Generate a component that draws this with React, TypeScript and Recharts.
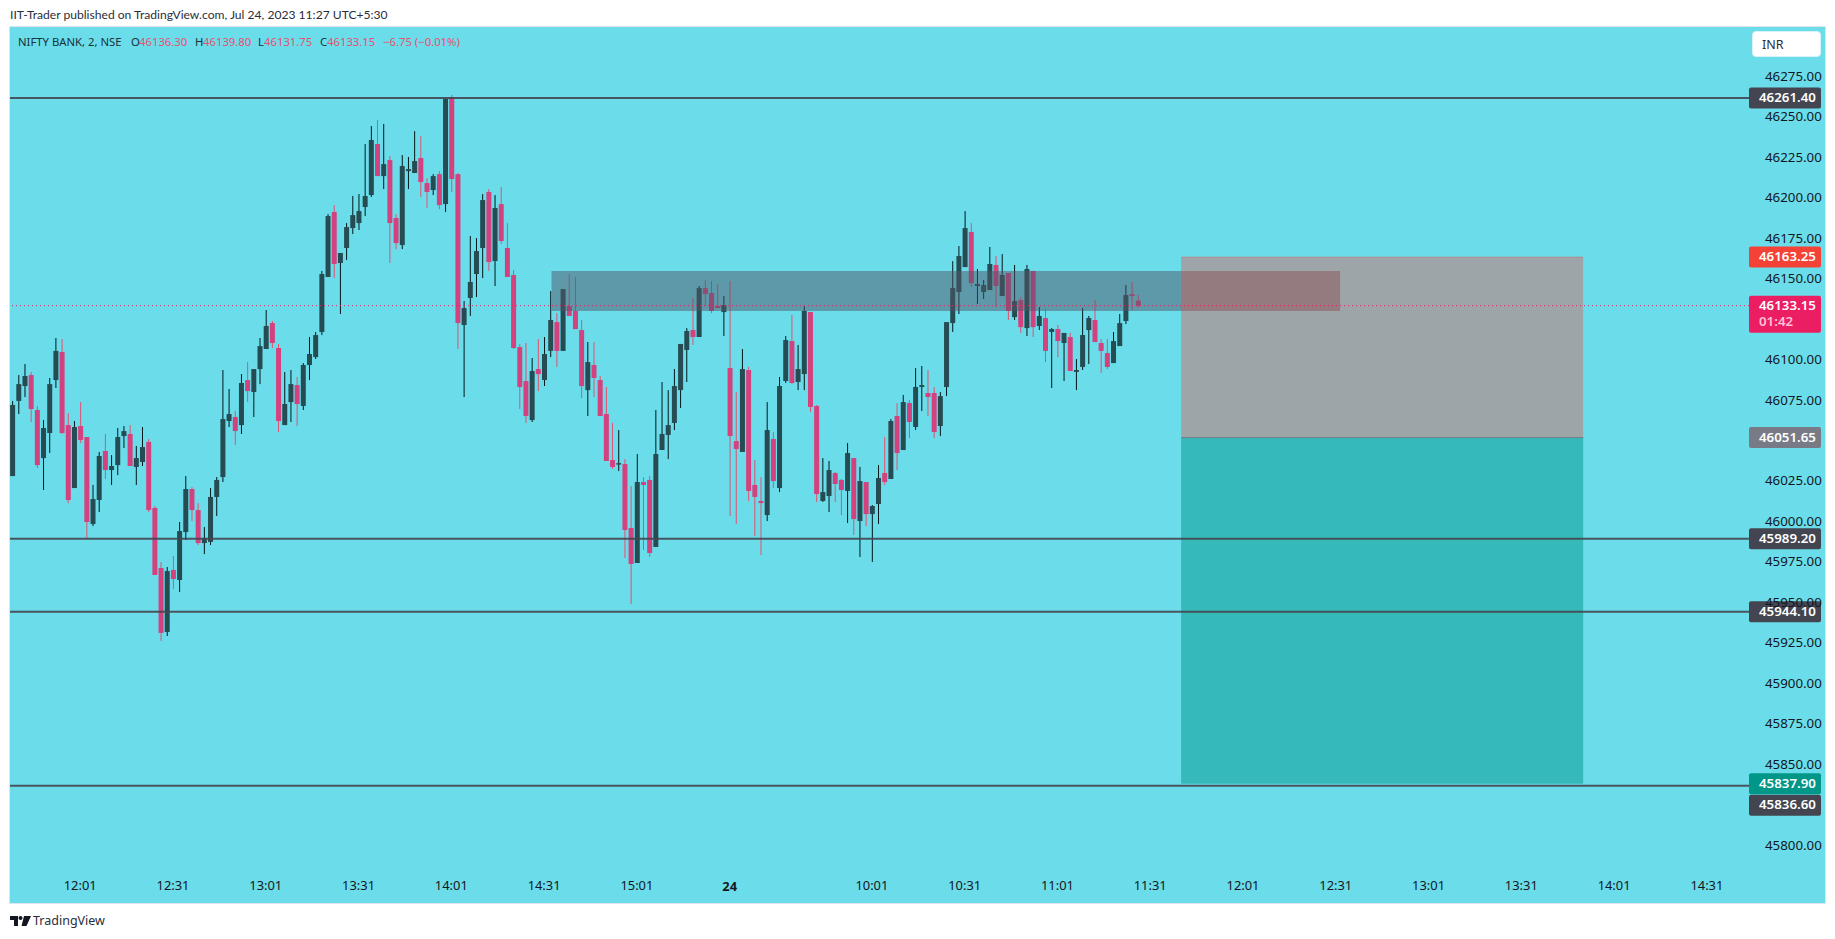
import {
  Bar,
  ComposedChart,
  ReferenceArea,
  ReferenceLine,
  XAxis,
  YAxis,
} from "recharts";

const opens = [
  46027.9, 46074.3, 46083.5, 46090.3, 46068.7, 46039.0, 46054.5, 46087.2, 46104.5, 46059.4,
  46020.5, 46058.8, 46052.0, 45998.3, 46013.1, 46043.4, 46031.6, 46034.7, 46052.6, 46053.9,
  46033.5, 46036.6, 46049.0, 46008.2, 45971.1, 45931.6, 45969.9, 45963.7, 45993.3, 46019.9,
  46006.9, 45986.5, 45987.2, 46015.0, 46027.3, 46061.9, 46064.4, 46059.4, 46087.2, 46079.8,
  46094.0, 46106.4, 46122.4, 46107.0, 46059.4, 46073.6, 46084.1, 46071.2, 46096.5, 46101.4,
  46116.9, 46150.9, 46191.0, 46159.5, 46168.8, 46181.1, 46184.2, 46194.1, 46201.5, 46233.0,
  46213.2, 46223.1, 46187.3, 46170.6, 46216.3, 46215.1, 46224.4, 46208.9, 46204.6, 46214.4,
  46195.9, 46262.0, 46214.4, 46121.2, 46137.9, 46152.7, 46168.8, 46203.4, 46160.7, 46195.9,
  46168.8, 46152.1, 46107.6, 46086.6, 46062.5, 46094.0, 46087.2, 46105.2, 46123.0, 46105.2,
  46132.9, 46129.9, 46118.1, 46081.0, 46096.5, 46087.2, 46066.2, 46037.8, 46035.3, 46035.3,
  45995.8, 45974.2, 46024.2, 46025.5, 45984.1, 46044.0, 46053.3, 46060.7, 46081.0, 46105.8,
  46118.1, 46113.8, 46144.0, 46141.0, 46132.9, 46129.2, 46094.6, 46049.5, 46042.8, 46093.4,
  46022.4, 46012.5, 46003.8, 46050.8, 46020.5, 46086.6, 46111.3, 46086.0, 46090.9, 46129.2,
  46071.2, 46012.5, 46015.6, 46029.8, 46025.5, 46018.7, 46039.0, 46000.1, 46024.2, 46004.4,
  46010.6, 46029.8, 46026.1, 46065.0, 46044.0, 46073.0, 46058.2, 46082.9, 46079.2, 46079.2,
  46058.8, 46082.9, 46122.4, 46141.6, 46157.0, 46178.7, 46145.3, 46141.6, 46142.8, 46158.3,
  46139.1, 46153.3, 46126.1, 46136.6, 46119.3, 46154.6, 46120.6, 46125.5, 46116.9, 46118.7,
  46110.1, 46113.8, 46092.2, 46095.3, 46118.1, 46124.3, 46110.1, 46103.9, 46097.7, 46108.2,
  46123.7, 46140.3, 46136.3,
];

const highs = [
  46074.3, 46090.3, 46097.1, 46092.2, 46071.2, 46062.5, 46088.5, 46113.2, 46112.5, 46066.8,
  46061.9, 46073.6, 46052.0, 46022.4, 46042.8, 46053.9, 46040.9, 46057.6, 46058.8, 46059.4,
  46046.5, 46058.2, 46050.8, 46009.4, 45974.8, 45971.7, 45978.5, 45999.5, 46027.9, 46021.1,
  46011.2, 45996.4, 46020.5, 46027.3, 46093.4, 46081.7, 46068.1, 46090.9, 46098.3, 46094.0,
  46113.2, 46130.5, 46123.7, 46109.5, 46092.2, 46093.4, 46089.1, 46097.7, 46113.8, 46116.9,
  46154.6, 46189.7, 46195.3, 46165.7, 46184.2, 46200.9, 46202.1, 46233.0, 46244.1, 46247.8,
  46245.4, 46225.6, 46189.7, 46226.2, 46225.0, 46241.0, 46238.0, 46212.0, 46214.4, 46216.3,
  46261.4, 46263.3, 46215.1, 46136.0, 46176.2, 46174.9, 46202.1, 46205.2, 46201.5, 46206.4,
  46184.2, 46155.2, 46109.5, 46110.1, 46100.8, 46112.5, 46113.8, 46142.2, 46128.6, 46143.4,
  46152.7, 46150.9, 46124.3, 46110.7, 46110.7, 46089.7, 46082.9, 46060.7, 46056.3, 46038.4,
  46021.7, 46041.5, 46027.3, 46027.9, 46068.7, 46086.0, 46081.0, 46094.0, 46109.5, 46119.3,
  46137.9, 46145.3, 46149.0, 46148.4, 46146.5, 46139.1, 46148.4, 46079.8, 46106.4, 46095.3,
  46037.8, 46027.3, 46073.6, 46055.1, 46089.1, 46114.4, 46127.4, 46108.9, 46132.9, 46129.2,
  46071.8, 46039.0, 46037.2, 46030.4, 46026.1, 46048.3, 46039.0, 46033.5, 46024.2, 46010.0,
  46034.7, 46052.0, 46063.1, 46073.0, 46078.0, 46074.9, 46094.6, 46095.9, 46093.4, 46082.9,
  46079.8, 46123.0, 46160.7, 46170.0, 46191.6, 46184.2, 46155.8, 46149.0, 46169.4, 46163.8,
  46165.0, 46153.3, 46158.3, 46138.5, 46158.3, 46154.6, 46132.3, 46131.1, 46119.3, 46121.2,
  46116.3, 46116.3, 46100.2, 46131.7, 46126.8, 46136.6, 46112.5, 46112.5, 46116.9, 46128.0,
  46145.9, 46147.8, 46139.8,
];

const lows = [
  46027.9, 46066.2, 46076.7, 46061.3, 46032.9, 46019.3, 46042.2, 46082.3, 46053.9, 46011.2,
  46020.5, 46048.3, 45989.0, 45997.0, 46005.7, 46026.1, 46022.4, 46028.5, 46045.2, 46034.1,
  46022.4, 46034.1, 46005.7, 45966.8, 45926.0, 45929.1, 45958.1, 45956.3, 45988.4, 46000.1,
  45985.3, 45979.7, 45985.3, 46003.2, 46024.2, 46058.2, 46047.1, 46053.9, 46073.6, 46064.4,
  46084.7, 46106.4, 46107.0, 46055.1, 46059.4, 46061.3, 46058.8, 46068.7, 46087.2, 46100.2,
  46115.0, 46150.9, 46150.2, 46128.0, 46161.4, 46177.4, 46179.9, 46188.5, 46200.3, 46213.2,
  46205.2, 46159.5, 46168.1, 46168.1, 46205.2, 46215.1, 46200.3, 46193.5, 46201.5, 46192.8,
  46191.0, 46203.4, 46106.4, 46076.7, 46126.8, 46138.5, 46150.2, 46154.6, 46145.3, 46171.2,
  46150.9, 46106.4, 46069.3, 46060.7, 46061.3, 46080.4, 46083.5, 46101.4, 46095.3, 46105.2,
  46126.8, 46118.7, 46076.1, 46065.0, 46076.7, 46065.0, 46037.2, 46032.3, 46031.0, 45977.3,
  45948.9, 45974.2, 45982.2, 45977.9, 45984.1, 46044.0, 46038.4, 46056.3, 46069.9, 46086.0,
  46108.9, 46113.8, 46132.9, 46128.6, 46131.7, 46114.4, 46003.2, 45998.3, 46042.8, 46012.5,
  45990.9, 45979.1, 46000.1, 46020.5, 46018.0, 46085.4, 46084.7, 46081.0, 46081.0, 46067.5,
  46011.9, 46011.9, 46005.7, 46011.9, 46003.8, 45998.9, 45991.5, 45977.9, 45997.0, 45974.8,
  45998.3, 46022.4, 46026.1, 46031.6, 46044.0, 46051.4, 46056.3, 46068.1, 46065.0, 46051.4,
  46052.6, 46077.3, 46116.9, 46128.0, 46157.0, 46144.7, 46134.2, 46137.3, 46142.8, 46132.3,
  46139.1, 46124.3, 46124.3, 46116.3, 46114.4, 46113.8, 46118.1, 46098.3, 46082.3, 46101.4,
  46086.6, 46092.8, 46081.0, 46093.4, 46097.1, 46110.7, 46091.6, 46094.0, 46097.7, 46108.2,
  46121.8, 46130.5, 46131.75,
];

const closes = [
  46071.8, 46084.7, 46089.7, 46069.3, 46034.7, 46057.6, 46084.7, 46105.2, 46054.5, 46013.1,
  46058.2, 46050.2, 45999.5, 46013.7, 46040.3, 46031.6, 46034.1, 46052.0, 46055.7, 46034.1,
  46039.0, 46045.8, 46006.9, 45966.8, 45931.0, 45969.2, 45964.3, 45993.9, 46019.9, 46006.9,
  45986.5, 45989.6, 46015.0, 46025.5, 46063.1, 46066.2, 46055.7, 46085.4, 46080.4, 46094.0,
  46108.2, 46120.6, 46110.1, 46061.9, 46072.4, 46084.7, 46072.4, 46096.5, 46103.3, 46115.0,
  46152.7, 46188.5, 46158.9, 46165.7, 46181.7, 46189.1, 46191.6, 46200.9, 46235.5, 46213.2,
  46220.6, 46184.2, 46171.8, 46219.4, 46217.5, 46222.5, 46209.5, 46203.4, 46213.2, 46195.3,
  46260.8, 46211.4, 46122.4, 46131.7, 46147.8, 46166.9, 46198.4, 46160.1, 46193.5, 46173.1,
  46150.9, 46107.0, 46082.9, 46065.0, 46092.8, 46090.9, 46103.3, 46124.3, 46105.2, 46143.4,
  46126.8, 46118.7, 46083.5, 46098.3, 46088.5, 46065.0, 46037.2, 46033.5, 46035.9, 45994.6,
  45973.6, 46024.2, 46022.4, 45980.4, 46041.5, 46053.9, 46059.4, 46083.5, 46109.5, 46117.5,
  46113.8, 46144.0, 46140.3, 46129.9, 46131.7, 46133.5, 46052.6, 46044.6, 46094.0, 46018.7,
  46015.0, 46011.2, 46056.3, 46024.8, 46083.5, 46111.9, 46085.4, 46094.0, 46129.9, 46070.6,
  46016.8, 46018.0, 46031.6, 46023.0, 46019.3, 46042.1, 46001.3, 46024.8, 46004.4, 46009.4,
  46026.7, 46024.2, 46061.9, 46042.1, 46073.6, 46061.3, 46082.9, 46084.1, 46076.7, 46055.1,
  46077.3, 46123.0, 46144.0, 46163.8, 46181.1, 46147.1, 46146.5, 46145.9, 46158.9, 46145.3,
  46152.1, 46129.9, 46136.0, 46119.9, 46155.8, 46119.9, 46126.8, 46105.2, 46118.7, 46111.3,
  46116.3, 46092.8, 46093.4, 46115.0, 46125.5, 46110.7, 46105.2, 46095.3, 46111.3, 46122.4,
  46139.7, 46139.1, 46133.15,
];

const timeTicks = [11, 26, 41, 56, 71, 86, 101, 116, 139, 154, 169, 184, 199, 214, 229, 244, 259, 274];
const timeLabels = ["12:01", "12:31", "13:01", "13:31", "14:01", "14:31", "15:01", "24", "10:01", "10:31", "11:01", "11:31", "12:01", "12:31", "13:01", "13:31", "14:01", "14:31"];
const priceTicks = [
  46275, 46250, 46225, 46200, 46175, 46150, 46100, 46075, 46025, 46000, 45975, 45950, 45925,
  45900, 45875, 45850, 45800,
];
const levels = [46261.4, 45989.2, 45944.1, 45836.6];
const lastPrice = 46133.15;
const stopPrice = 46163.25;
const entryPrice = 46051.65;
const targetPrice = 45837.9;
const zonePrices = [46129.8, 46154.6];
const zoneBars = [87.2, 214.7];
const positionBars = [189, 254];

const chartData = opens.map((open, i) => ({
  i,
  open,
  high: highs[i],
  low: lows[i],
  close: closes[i],
  range: [lows[i], highs[i]],
}));

const FONT = '"Noto Sans", sans-serif';
const TEXT = "#131722";
const UP_BODY = "#264c53";
const UP_WICK = "#04171b";
const DOWN_BODY = "#d4417f";
const DOWN_WICK = "#e5506f";

function Candle(props: any) {
  const { x, y, width, height, payload } = props;
  const { open, high, low, close } = payload;
  const up = close >= open;
  const k = height / (high - low);
  const top = y + (high - Math.max(open, close)) * k;
  const bodyH = Math.max(Math.abs(open - close) * k, 1.5);
  const cx = x + width / 2;
  return (
    <g>
      <rect x={cx - 0.5} y={y} width={1} height={height} fill={up ? UP_WICK : DOWN_WICK} />
      <rect x={x} y={top} width={width} height={bodyH} fill={up ? UP_BODY : DOWN_BODY} />
    </g>
  );
}

function TimeTick(props: any) {
  const { x, y, payload } = props;
  const label = timeLabels[timeTicks.indexOf(payload.value)];
  return (
    <text x={x} y={y + 12} textAnchor="middle" dominantBaseline="middle" fontFamily={FONT} fontSize={12.9} fontWeight={label === "24" ? 700 : 400} fill={TEXT}>
      {label}
    </text>
  );
}

function PriceTag(props: any) {
  const { viewBox, text, color, dy = 0, sub } = props;
  const left = viewBox.x + viewBox.width;
  const mid = viewBox.y + dy;
  const h = sub ? 37 : 21;
  const top = sub ? mid - 10 : mid - 10.5;
  return (
    <g>
      <rect x={left} y={top} width={72} height={h} rx={2} fill={color} />
      <text x={left + 10} y={top + 11} dominantBaseline="middle" fontFamily={FONT} fontSize={13.3} fontWeight={600} fill="#fff">
        {text}
      </text>
      {sub && (
        <text x={left + 10} y={top + 27} dominantBaseline="middle" fontFamily={FONT} fontSize={13.3} fontWeight={600} fill="#ffc0d6">
          {sub}
        </text>
      )}
    </g>
  );
}

const spanStyle = (left: number, color: string) => ({
  position: "absolute" as const,
  left,
  top: 7,
  fontFamily: FONT,
  fontSize: 11.3,
  lineHeight: "16px",
  color,
  whiteSpace: "nowrap" as const,
});

const ohlcRed = "#e5506f";
const ohlcDark = "#183338";

export default function App() {
  return (
    <div style={{ position: "absolute", left: 0, top: 0, width: 1835, height: 939, background: "#fff", overflow: "hidden" }}>
      <div style={{ position: "absolute", left: 10, top: 6, fontFamily: '"Lato", sans-serif', fontSize: 12.1, lineHeight: "18px", color: "#2a2e39", whiteSpace: "nowrap" }}>
        IIT-Trader published on TradingView.com, Jul 24, 2023 11:27 UTC+5:30
      </div>
      <div style={{ position: "absolute", left: 9, top: 26, width: 1815, height: 876, border: "1px solid #dfe5ea", background: "#6bddea" }}>
        <ComposedChart
          width={1815}
          height={876}
          data={chartData}
          margin={{ top: 0, right: 0, bottom: 0, left: 0 }}
          barSize={5}
        >
          <XAxis
            type="number"
            dataKey="i"
            domain={[-0.356, 280.81]}
            allowDataOverflow
            ticks={timeTicks}
            interval={0}
            height={36}
            axisLine={false}
            tickLine={false}
            tick={<TimeTick />}
          />
          <YAxis
            type="number"
            orientation="right"
            domain={[45786.4, 46305.3]}
            allowDataOverflow
            ticks={priceTicks}
            interval={0}
            width={76}
            axisLine={false}
            tickLine={false}
            tickMargin={10}
            tickFormatter={(v: number) => v.toFixed(2)}
            tick={{ fill: TEXT, fontSize: 13.3, fontFamily: FONT }}
          />
          <Bar dataKey="range" shape={<Candle />} isAnimationActive={false} />
          <ReferenceArea x1={zoneBars[0]} x2={zoneBars[1]} y1={zonePrices[0]} y2={zonePrices[1]} fill="#4f5566" fillOpacity={0.5} stroke="none" zIndex={350} />
          <ReferenceArea x1={positionBars[0]} x2={positionBars[1]} y1={entryPrice} y2={stopPrice} fill="#ee4a40" fillOpacity={0.38} stroke="none" zIndex={360} />
          <ReferenceArea x1={positionBars[0]} x2={positionBars[1]} y1={targetPrice} y2={entryPrice} fill="#009688" fillOpacity={0.5} stroke="none" zIndex={360} />
          <ReferenceLine segment={[{ x: positionBars[0], y: stopPrice }, { x: positionBars[1], y: stopPrice }]} stroke="#f44336" strokeOpacity={0.3} />
          <ReferenceLine segment={[{ x: positionBars[0], y: entryPrice }, { x: positionBars[1], y: entryPrice }]} stroke="#787b86" />
          <ReferenceLine y={lastPrice} stroke="#e91e63" strokeDasharray="1 3" label={<PriceTag text="46133.15" sub="01:42" color="#ec1e63" />} />
          <ReferenceLine y={stopPrice} stroke="none" label={<PriceTag text="46163.25" color="#f44336" />} />
          <ReferenceLine y={entryPrice} stroke="none" label={<PriceTag text="46051.65" color="#787b86" />} />
          {levels.map((v) => (
            <ReferenceLine
              key={v}
              y={v}
              stroke="#434651"
              strokeOpacity={0.9}
              strokeWidth={2}
              label={<PriceTag text={v.toFixed(2)} color="#434651" dy={v === 45836.6 ? 19.5 : 0} />}
            />
          ))}
          <ReferenceLine y={targetPrice} stroke="none" label={<PriceTag text="45837.90" color="#009688" />} />
        </ComposedChart>
        <div style={spanStyle(8, ohlcDark)}>NIFTY BANK, 2, NSE</div>
        <div style={spanStyle(121, ohlcDark)}>O</div>
        <div style={spanStyle(129, ohlcRed)}>46136.30</div>
        <div style={spanStyle(185, ohlcDark)}>H</div>
        <div style={spanStyle(193, ohlcRed)}>46139.80</div>
        <div style={spanStyle(248, ohlcDark)}>L</div>
        <div style={spanStyle(254, ohlcRed)}>46131.75</div>
        <div style={spanStyle(310, ohlcDark)}>C</div>
        <div style={spanStyle(317, ohlcRed)}>46133.15</div>
        <div style={spanStyle(373, ohlcRed)}>−6.75 (−0.01%)</div>
        <div style={{ position: "absolute", left: 1742, top: 4, width: 67, height: 24, borderRadius: 4, border: "1px solid #d6f3f7", background: "#fff", fontFamily: FONT, fontSize: 12.5, lineHeight: "25px", color: "#2a2e39", textIndent: 9 }}>
          INR
        </div>
      </div>
      <svg style={{ position: "absolute", left: 10, top: 916 }} width={21} height={10} viewBox="0 0 21 10">
        <path d="M0 0H8V10H4V4H0Z M14 0H21L16.5 10H11.5Z" fill="#131722" />
        <circle cx={10.5} cy={2} r={2} fill="#131722" />
      </svg>
      <div style={{ position: "absolute", left: 33, top: 912, fontFamily: FONT, fontSize: 12.5, lineHeight: "18px", color: "#2a2e39" }}>TradingView</div>
    </div>
  );
}
